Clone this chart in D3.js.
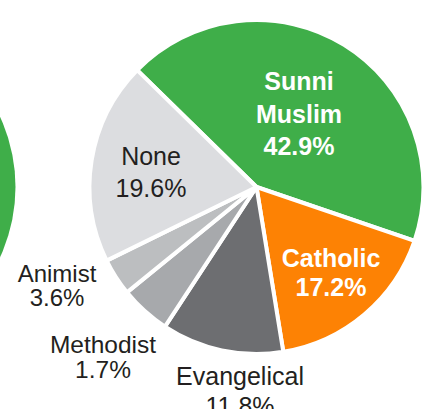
<!DOCTYPE html>
<html>
<head>
<meta charset="utf-8">
<script src="https://cdn.jsdelivr.net/npm/d3@7"></script>
<style>
  html, body { margin: 0; padding: 0; background: #ffffff; }
  svg { display: block; }
  text { font-family: "Liberation Sans", Arial, Helvetica, sans-serif; }
</style>
</head>
<body>
<div id="chart"></div>
<script>
// ---- data ----
const categories = ["Sunni Muslim", "Catholic", "Evangelical", "Methodist", "Animist", "None"];
const labelLines = [["Sunni", "Muslim"], ["Catholic"], ["Evangelical"], ["Methodist"], ["Animist"], ["None"]];
const percentLabels = ["42.9%", "17.2%", "11.8%", "1.7%", "3.6%", "19.6%"];
// angular share of each slice as drawn in the picture
const sliceValues = [42.9, 17.2, 11.8, 4.9, 3.6, 19.6];
const colors = ["#3fae49", "#fd8204", "#6d6e71", "#a7a9ac", "#bcbec0", "#dcdde0"];

// ---- layout ----
const W = 428, H = 409;
const cx = 256.5, cy = 187, R = 167;
const startDeg = -45.6;

const svg = d3.select("#chart").append("svg")
  .attr("width", W).attr("height", H);

// neighbouring pie (partly visible at left edge)
svg.append("circle")
  .attr("cx", cx - 408).attr("cy", cy).attr("r", R)
  .attr("fill", colors[0]);

const pie = d3.pie().sort(null).value(d => d)
  .startAngle(startDeg * Math.PI / 180)
  .endAngle(startDeg * Math.PI / 180 + 2 * Math.PI);
const arcs = pie(sliceValues);
const arc = d3.arc().innerRadius(0).outerRadius(R);

const g = svg.append("g").attr("transform", `translate(${cx},${cy})`);
g.selectAll("path").data(arcs).join("path")
  .attr("d", arc)
  .attr("fill", (d, i) => colors[i])
  .attr("stroke", "#ffffff")
  .attr("stroke-width", 4)
  .attr("stroke-linejoin", "round");

// label placement relative to pie centre: [dx, first baseline dy, line gap, font size, inside?]
const place = [
  [42.5, -97, 32.5, 25, true],
  [74.5, 80, 28.5, 25, true],
  [-16.5, 198, 30, 25, false],
  [-153.5, 166, 25, 24.5, false],
  [-199.5, 95, 24, 24, false],
  [-105.5, -22, 32, 25, false]
];

categories.forEach((c, i) => {
  const [dx, dy, gap, fs, inside] = place[i];
  const lines = labelLines[i].concat([percentLabels[i]]);
  const t = g.append("text")
    .attr("text-anchor", "middle")
    .attr("font-size", fs)
    .attr("font-weight", inside ? "bold" : "normal")
    .attr("fill", inside ? "#ffffff" : "#231f20");
  lines.forEach((ln, k) => {
    t.append("tspan").attr("x", dx).attr("y", dy + k * gap).text(ln);
  });
});
</script>
</body>
</html>
